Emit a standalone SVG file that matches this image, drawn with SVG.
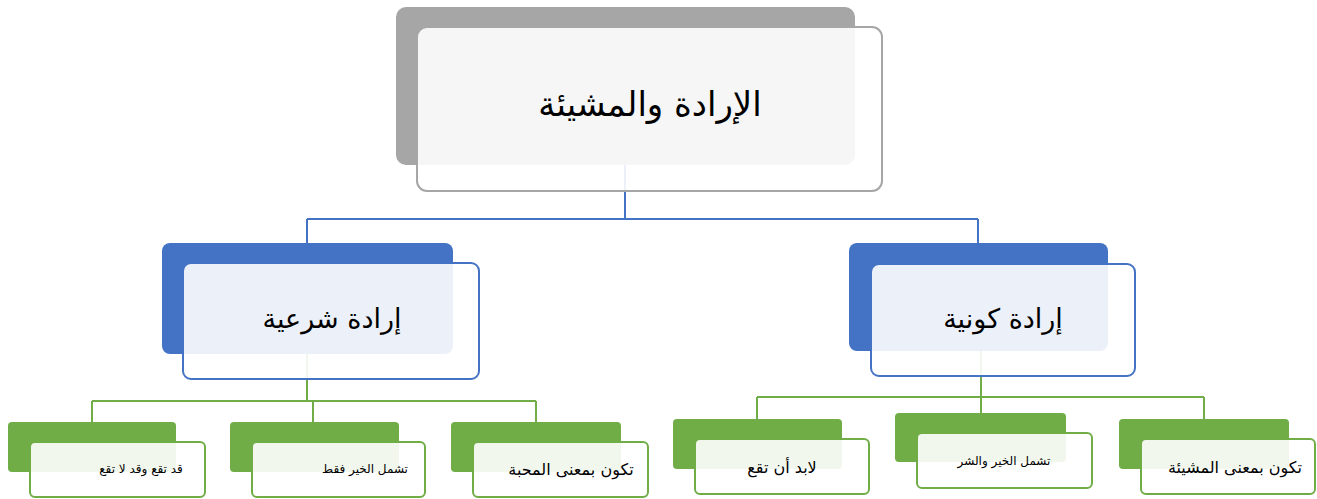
<svg xmlns="http://www.w3.org/2000/svg" width="1317" height="499" viewBox="0 0 1317 499">
<style>
.bk-g{fill:#a6a6a6}
.fr-g{fill:#ffffff;fill-opacity:0.9;stroke:#a6a6a6;stroke-width:2}
.bk-b{fill:#4472c4}
.fr-b{fill:#ffffff;fill-opacity:0.9;stroke:#4472c4;stroke-width:2}
.bk-n{fill:#70ad47}
.fr-n{fill:#ffffff;fill-opacity:0.9;stroke:#70ad47;stroke-width:2}
.cb{fill:none;stroke:#4472c4;stroke-width:2}
.cg{fill:none;stroke:#70ad47;stroke-width:2}
text{font-family:"DejaVu Sans",sans-serif;fill:#000;text-anchor:middle;dominant-baseline:central}
</style>
<rect width="1317" height="499" fill="#ffffff"/>
<g id="connectors">
<path class="cb" d="M625 165V219M307 219H978M307 219V243M978 219V243"/>
<path class="cg" d="M307 354V401M92 401H536M92 401V422M313 401V422M536 401V422"/>
<path class="cg" d="M981 351V397M757 397H1204M757 397V419M1204 397V419M981 397V413"/>
</g>
<g id="n-root">
<rect class="bk-g" x="396" y="7" width="459" height="158" rx="10"/>
<rect class="fr-g" x="417" y="27" width="465" height="164" rx="10"/>
<text x="650" y="104" font-size="34">الإرادة والمشيئة</text>
</g>
<g id="n-shariya">
<rect class="bk-b" x="162" y="243" width="291" height="111" rx="8"/>
<rect class="fr-b" x="183" y="263" width="296" height="116" rx="8"/>
<text x="332" y="318" font-size="27">إرادة شرعية</text>
</g>
<g id="n-kawniya">
<rect class="bk-b" x="849" y="243" width="259" height="108" rx="8"/>
<rect class="fr-b" x="871" y="264" width="264" height="112" rx="8"/>
<text x="1003" y="318" font-size="27">إرادة كونية</text>
</g>
<g id="n-b1">
<rect class="bk-n" x="8" y="422" width="168" height="50" rx="4"/>
<rect class="fr-n" x="30" y="442" width="175" height="55" rx="5"/>
<text x="141" y="469" font-size="12">قد تقع وقد لا تقع</text>
</g>
<g id="n-b2">
<rect class="bk-n" x="230" y="422" width="169" height="50" rx="4"/>
<rect class="fr-n" x="252" y="442" width="173" height="55" rx="5"/>
<text x="365" y="469" font-size="12">تشمل الخير فقط</text>
</g>
<g id="n-b3">
<rect class="bk-n" x="451" y="422" width="170" height="50" rx="4"/>
<rect class="fr-n" x="473" y="442" width="175" height="55" rx="5"/>
<text x="571" y="469" font-size="16">تكون بمعنى المحبة</text>
</g>
<g id="n-b4">
<rect class="bk-n" x="673" y="419" width="169" height="50" rx="4"/>
<rect class="fr-n" x="695" y="439" width="174" height="55" rx="5"/>
<text x="782" y="467" font-size="16">لابد أن تقع</text>
</g>
<g id="n-b5">
<rect class="bk-n" x="895" y="413" width="171" height="49" rx="4"/>
<rect class="fr-n" x="917" y="433" width="175" height="55" rx="5"/>
<text x="1004" y="461" font-size="12">تشمل الخير والشر</text>
</g>
<g id="n-b6">
<rect class="bk-n" x="1119" y="419" width="170" height="50" rx="4"/>
<rect class="fr-n" x="1141" y="439" width="174" height="55" rx="5"/>
<text x="1235" y="467" font-size="16">تكون بمعنى المشيئة</text>
</g>
</svg>
